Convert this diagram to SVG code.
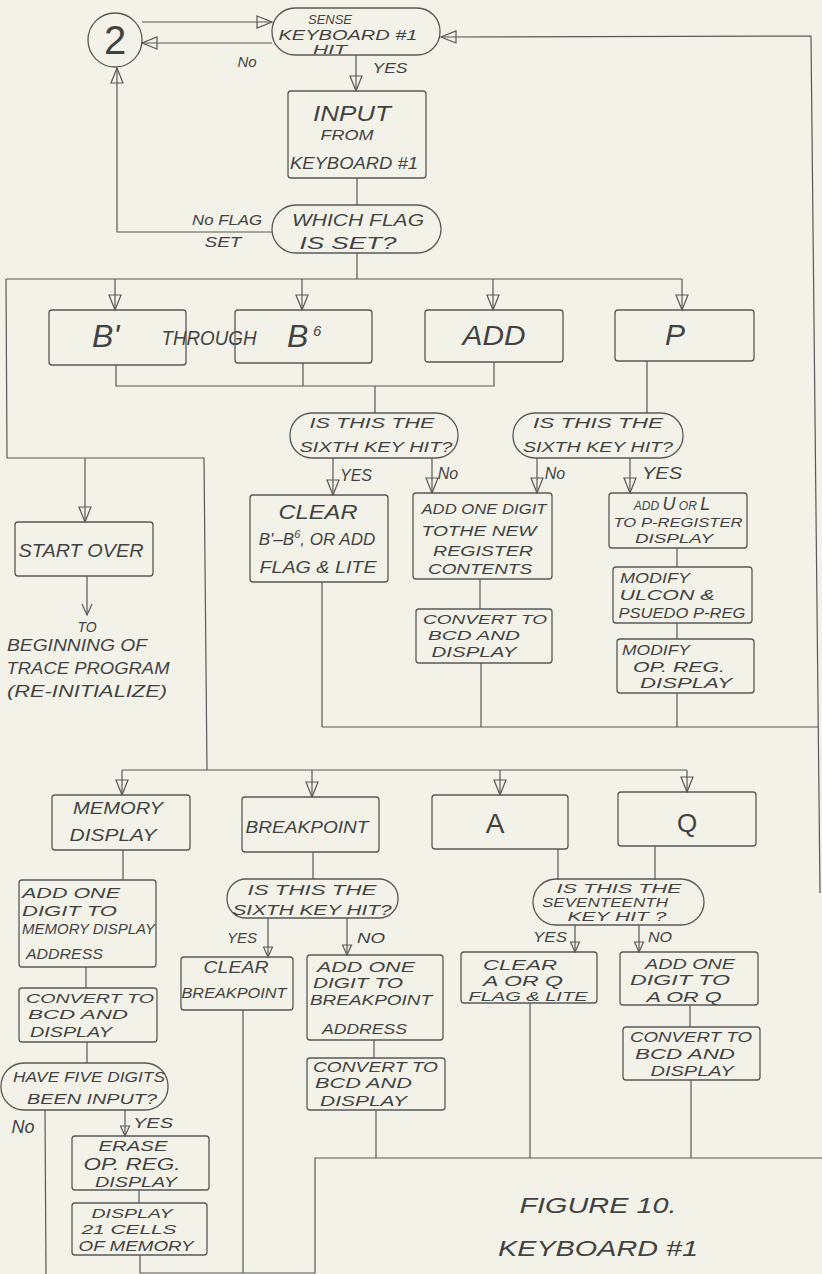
<svg xmlns="http://www.w3.org/2000/svg" width="822" height="1274" viewBox="0 0 822 1274">
<style>
.bx{fill:none;stroke:#585858;stroke-width:1.3}
.ln{fill:none;stroke:#585858;stroke-width:1.2}
.t{font-family:"Liberation Sans",Arial,sans-serif;font-style:italic;fill:#424242;text-anchor:middle}
.s{text-anchor:start}
</style>
<defs>
<marker id="tri" viewBox="-1 -1 17 14" markerWidth="17" markerHeight="14" refX="15" refY="6" orient="auto" markerUnits="userSpaceOnUse">
<path d="M0,0 L15,6 L0,12 Z" fill="none" stroke="#585858" stroke-width="1.2"/>
</marker>
<marker id="tris" viewBox="-1 -1 12 11" markerWidth="12" markerHeight="11" refX="10" refY="4.5" orient="auto" markerUnits="userSpaceOnUse">
<path d="M0,0 L10,4.5 L0,9 Z" fill="none" stroke="#585858" stroke-width="1.2"/>
</marker>
<marker id="vee" viewBox="-1 -1 13 12" markerWidth="13" markerHeight="12" refX="11" refY="5" orient="auto" markerUnits="userSpaceOnUse">
<path d="M0,0 L11,5 L0,10" fill="none" stroke="#585858" stroke-width="1.2"/>
</marker>
</defs>
<rect width="822" height="1274" fill="#f3f2e9"/>

<g id="connectors">
<line class="ln" x1="142" y1="22" x2="272" y2="22" marker-end="url(#tri)"/>
<line class="ln" x1="272" y1="43" x2="142" y2="43" marker-end="url(#tri)"/>
<path class="ln" d="M820,893 L811,36 L441,37" marker-end="url(#tri)"/>
<line class="ln" x1="356" y1="55" x2="356" y2="91" marker-end="url(#tri)"/>
<line class="ln" x1="357" y1="178" x2="357" y2="205"/>
<path class="ln" d="M272,232 L117,232 L117,68" marker-end="url(#tri)"/>
<line class="ln" x1="357" y1="253" x2="357" y2="279"/>
<line class="ln" x1="6" y1="279" x2="682" y2="279"/>
<line class="ln" x1="115" y1="279" x2="115" y2="310" marker-end="url(#tri)"/>
<line class="ln" x1="302" y1="279" x2="302" y2="310" marker-end="url(#tri)"/>
<line class="ln" x1="493" y1="279" x2="493" y2="310" marker-end="url(#tri)"/>
<line class="ln" x1="682" y1="279" x2="682" y2="310" marker-end="url(#tri)"/>
<path class="ln" d="M6,279 L7,458 L204,458 L207,770"/>
<line class="ln" x1="85" y1="458" x2="85" y2="522" marker-end="url(#tri)"/>
<line class="ln" x1="87" y1="576" x2="87" y2="615" marker-end="url(#vee)"/>
<path class="ln" d="M116,365 V386 H494 V362 M303,363 V386 M375,386 V413"/>
<line class="ln" x1="647" y1="361" x2="647" y2="413"/>
<line class="ln" x1="333" y1="458" x2="333" y2="495" marker-end="url(#tri)"/>
<line class="ln" x1="432" y1="458" x2="432" y2="493" marker-end="url(#tri)"/>
<line class="ln" x1="537" y1="458" x2="537" y2="493" marker-end="url(#tri)"/>
<line class="ln" x1="630" y1="458" x2="630" y2="493" marker-end="url(#tri)"/>
<line class="ln" x1="480" y1="579" x2="480" y2="609"/>
<line class="ln" x1="481" y1="663" x2="481" y2="727"/>
<line class="ln" x1="322" y1="582" x2="322" y2="727"/>
<line class="ln" x1="677" y1="548" x2="677" y2="567"/>
<line class="ln" x1="677" y1="623" x2="677" y2="639"/>
<line class="ln" x1="677" y1="693" x2="677" y2="727"/>
<line class="ln" x1="322" y1="727" x2="818" y2="727"/>
<line class="ln" x1="122" y1="770" x2="687" y2="770"/>
<line class="ln" x1="122" y1="770" x2="122" y2="795" marker-end="url(#tri)"/>
<line class="ln" x1="312" y1="770" x2="312" y2="797" marker-end="url(#tri)"/>
<line class="ln" x1="500" y1="770" x2="500" y2="795" marker-end="url(#tri)"/>
<line class="ln" x1="687" y1="770" x2="687" y2="792" marker-end="url(#tri)"/>
<line class="ln" x1="123" y1="850" x2="123" y2="880"/>
<line class="ln" x1="313" y1="852" x2="313" y2="879"/>
<line class="ln" x1="268" y1="918" x2="268" y2="957" marker-end="url(#tris)"/>
<line class="ln" x1="347" y1="918" x2="347" y2="955" marker-end="url(#tris)"/>
<line class="ln" x1="558" y1="849" x2="558" y2="880"/>
<line class="ln" x1="655" y1="846" x2="655" y2="880"/>
<line class="ln" x1="575" y1="925" x2="575" y2="952" marker-end="url(#tris)"/>
<line class="ln" x1="639" y1="925" x2="639" y2="952" marker-end="url(#tris)"/>
<line class="ln" x1="86" y1="967" x2="86" y2="988"/>
<line class="ln" x1="87" y1="1042" x2="87" y2="1063"/>
<line class="ln" x1="45" y1="1110" x2="46" y2="1274"/>
<line class="ln" x1="125" y1="1110" x2="125" y2="1136" marker-end="url(#tris)"/>
<line class="ln" x1="139" y1="1190" x2="139" y2="1203"/>
<path class="ln" d="M140,1255 V1273 H315 V1158 H822"/>
<line class="ln" x1="243" y1="1010" x2="243" y2="1273"/>
<line class="ln" x1="374" y1="1040" x2="374" y2="1058"/>
<line class="ln" x1="376" y1="1110" x2="376" y2="1158"/>
<line class="ln" x1="530" y1="1003" x2="530" y2="1158"/>
<line class="ln" x1="690" y1="1005" x2="690" y2="1027"/>
<line class="ln" x1="691" y1="1080" x2="691" y2="1158"/>
</g>

<g id="labels">
<text class="t" x="247" y="67" font-size="15">No</text>
<text class="t" x="390" y="73" font-size="14" textLength="35" lengthAdjust="spacingAndGlyphs">YES</text>
<text class="t" x="227" y="225" font-size="14" textLength="70" lengthAdjust="spacingAndGlyphs">No FLAG</text>
<text class="t" x="223" y="247" font-size="14" textLength="37" lengthAdjust="spacingAndGlyphs">SET</text>
<text class="t" x="356" y="481" font-size="16" textLength="32" lengthAdjust="spacingAndGlyphs">YES</text>
<text class="t" x="448" y="479" font-size="16">No</text>
<text class="t" x="555" y="479" font-size="16">No</text>
<text class="t" x="662" y="479" font-size="16" textLength="40" lengthAdjust="spacingAndGlyphs">YES</text>
<text class="t" x="242" y="943" font-size="14" textLength="30" lengthAdjust="spacingAndGlyphs">YES</text>
<text class="t" x="371" y="943" font-size="14" textLength="28" lengthAdjust="spacingAndGlyphs">NO</text>
<text class="t" x="550" y="942" font-size="14" textLength="34" lengthAdjust="spacingAndGlyphs">YES</text>
<text class="t" x="660" y="942" font-size="14" textLength="24" lengthAdjust="spacingAndGlyphs">NO</text>
<text class="t" x="23" y="1133" font-size="18">No</text>
<text class="t" x="153" y="1128" font-size="15" textLength="40" lengthAdjust="spacingAndGlyphs">YES</text>
</g>

<g id="n-circle2">
<circle class="bx" cx="115" cy="40" r="27"/>
<text class="t" x="115" y="54" font-size="40" style="font-style:normal">2</text>
</g>

<g id="n-sense">
<rect class="bx" x="272" y="8" width="168" height="47" rx="23"/>
<text class="t" x="330" y="24" font-size="12" textLength="44" lengthAdjust="spacingAndGlyphs">SENSE</text>
<text class="t" x="348" y="40" font-size="14" textLength="139" lengthAdjust="spacingAndGlyphs">KEYBOARD #1</text>
<text class="t" x="330" y="54" font-size="12" textLength="34" lengthAdjust="spacingAndGlyphs">HIT</text>
</g>

<g id="n-input">
<rect class="bx" x="288" y="91" width="138" height="87" rx="3"/>
<text class="t" x="352" y="121" font-size="22" textLength="78" lengthAdjust="spacingAndGlyphs">INPUT</text>
<text class="t" x="347" y="140" font-size="15" textLength="53" lengthAdjust="spacingAndGlyphs">FROM</text>
<text class="t" x="354" y="169" font-size="17" textLength="128" lengthAdjust="spacingAndGlyphs">KEYBOARD #1</text>
</g>

<g id="n-whichflag">
<rect class="bx" x="272" y="205" width="169" height="48" rx="24"/>
<text class="t" x="358" y="226" font-size="17" textLength="132" lengthAdjust="spacingAndGlyphs">WHICH FLAG</text>
<text class="t" x="348" y="249" font-size="17" textLength="97" lengthAdjust="spacingAndGlyphs">IS SET?</text>
</g>

<g id="n-b1">
<rect class="bx" x="49" y="310" width="137" height="55" rx="3"/>
<text class="t s" x="92" y="347" font-size="32">B'</text>
</g>
<g id="n-through">
<text class="t" x="209" y="345" font-size="20" textLength="95" lengthAdjust="spacingAndGlyphs">THROUGH</text>
</g>
<g id="n-b6">
<rect class="bx" x="235" y="310" width="137" height="53" rx="3"/>
<text class="t s" x="287" y="347" font-size="32">B</text>
<text class="t s" x="313" y="336" font-size="15">6</text>
</g>
<g id="n-add">
<rect class="bx" x="425" y="310" width="138" height="52" rx="3"/>
<text class="t" x="494" y="345" font-size="28" textLength="63" lengthAdjust="spacingAndGlyphs">ADD</text>
</g>
<g id="n-p">
<rect class="bx" x="615" y="310" width="139" height="51" rx="3"/>
<text class="t" x="675" y="345" font-size="30">P</text>
</g>

<g id="n-dec1">
<rect class="bx" x="290" y="413" width="168" height="45" rx="22"/>
<text class="t" x="372" y="428" font-size="14" textLength="125" lengthAdjust="spacingAndGlyphs">IS THIS THE</text>
<text class="t" x="376" y="452" font-size="14" textLength="153" lengthAdjust="spacingAndGlyphs">SIXTH KEY HIT?</text>
</g>
<g id="n-dec2">
<rect class="bx" x="513" y="413" width="170" height="45" rx="22"/>
<text class="t" x="598" y="428" font-size="14" textLength="130" lengthAdjust="spacingAndGlyphs">IS THIS THE</text>
<text class="t" x="598" y="452" font-size="14" textLength="150" lengthAdjust="spacingAndGlyphs">SIXTH KEY HIT?</text>
</g>

<g id="n-startover">
<rect class="bx" x="15" y="522" width="138" height="54" rx="3"/>
<text class="t" x="81" y="557" font-size="18" textLength="125" lengthAdjust="spacingAndGlyphs">START OVER</text>
</g>
<g id="n-tobeginning">
<text class="t" x="87" y="632" font-size="14">TO</text>
<text class="t" x="77" y="651" font-size="16" textLength="140" lengthAdjust="spacingAndGlyphs">BEGINNING OF</text>
<text class="t" x="88" y="674" font-size="16" textLength="163" lengthAdjust="spacingAndGlyphs">TRACE PROGRAM</text>
<text class="t" x="87" y="697" font-size="16" textLength="160" lengthAdjust="spacingAndGlyphs">(RE-INITIALIZE)</text>
</g>

<g id="n-clear1">
<rect class="bx" x="250" y="495" width="138" height="87" rx="3"/>
<text class="t" x="318" y="519" font-size="20" textLength="79" lengthAdjust="spacingAndGlyphs">CLEAR</text>
<text class="t" x="317" y="545" font-size="17">B'–B<tspan font-size="11" dy="-7">6</tspan><tspan dy="7">, OR ADD</tspan></text>
<text class="t" x="318" y="573" font-size="16" textLength="117" lengthAdjust="spacingAndGlyphs">FLAG &amp; LITE</text>
</g>

<g id="n-addonedigit">
<rect class="bx" x="413" y="493" width="139" height="86" rx="3"/>
<text class="t" x="484" y="514" font-size="15" textLength="125" lengthAdjust="spacingAndGlyphs">ADD ONE DIGIT</text>
<text class="t" x="479" y="536" font-size="15" textLength="115" lengthAdjust="spacingAndGlyphs">TOTHE NEW</text>
<text class="t" x="483" y="556" font-size="15" textLength="100" lengthAdjust="spacingAndGlyphs">REGISTER</text>
<text class="t" x="480" y="574" font-size="15" textLength="104" lengthAdjust="spacingAndGlyphs">CONTENTS</text>
</g>
<g id="n-convert1">
<rect class="bx" x="416" y="609" width="136" height="54" rx="3"/>
<text class="t" x="485" y="624" font-size="13" textLength="124" lengthAdjust="spacingAndGlyphs">CONVERT TO</text>
<text class="t" x="474" y="640" font-size="13" textLength="92" lengthAdjust="spacingAndGlyphs">BCD AND</text>
<text class="t" x="474" y="657" font-size="14" textLength="85" lengthAdjust="spacingAndGlyphs">DISPLAY</text>
</g>

<g id="n-adduorl">
<rect class="bx" x="609" y="493" width="138" height="55" rx="3"/>
<text class="t" x="672" y="510" font-size="12">ADD <tspan font-size="18">U</tspan> OR <tspan font-size="18">L</tspan></text>
<text class="t" x="678" y="527" font-size="13" textLength="129" lengthAdjust="spacingAndGlyphs">TO P-REGISTER</text>
<text class="t" x="674" y="543" font-size="13" textLength="78" lengthAdjust="spacingAndGlyphs">DISPLAY</text>
</g>
<g id="n-modify1">
<rect class="bx" x="613" y="567" width="139" height="56" rx="3"/>
<text class="t" x="655" y="583" font-size="14" textLength="70" lengthAdjust="spacingAndGlyphs">MODIFY</text>
<text class="t" x="667" y="600" font-size="14" textLength="95" lengthAdjust="spacingAndGlyphs">ULCON &amp;</text>
<text class="t" x="682" y="618" font-size="14" textLength="127" lengthAdjust="spacingAndGlyphs">PSUEDO P-REG</text>
</g>
<g id="n-modify2">
<rect class="bx" x="617" y="639" width="137" height="54" rx="3"/>
<text class="t" x="656" y="655" font-size="14" textLength="68" lengthAdjust="spacingAndGlyphs">MODIFY</text>
<text class="t" x="679" y="672" font-size="15" textLength="92" lengthAdjust="spacingAndGlyphs">OP. REG.</text>
<text class="t" x="686" y="688" font-size="14" textLength="92" lengthAdjust="spacingAndGlyphs">DISPLAY</text>
</g>

<g id="n-memdisp">
<rect class="bx" x="52" y="795" width="138" height="55" rx="3"/>
<text class="t" x="118" y="814" font-size="16" textLength="90" lengthAdjust="spacingAndGlyphs">MEMORY</text>
<text class="t" x="113" y="841" font-size="16" textLength="87" lengthAdjust="spacingAndGlyphs">DISPLAY</text>
</g>
<g id="n-breakpoint">
<rect class="bx" x="242" y="797" width="137" height="55" rx="3"/>
<text class="t" x="307" y="833" font-size="16" textLength="123" lengthAdjust="spacingAndGlyphs">BREAKPOINT</text>
</g>
<g id="n-a">
<rect class="bx" x="432" y="795" width="136" height="54" rx="3"/>
<text class="t" x="495" y="833" font-size="28" style="font-style:normal">A</text>
</g>
<g id="n-q">
<rect class="bx" x="618" y="792" width="138" height="54" rx="3"/>
<text class="t" x="687" y="832" font-size="26" style="font-style:normal">Q</text>
</g>

<g id="n-addmem">
<rect class="bx" x="19" y="880" width="137" height="87" rx="3"/>
<text class="t s" x="22" y="898" font-size="15" textLength="98" lengthAdjust="spacingAndGlyphs">ADD ONE</text>
<text class="t s" x="22" y="916" font-size="15" textLength="95" lengthAdjust="spacingAndGlyphs">DIGIT TO</text>
<text class="t s" x="22" y="934" font-size="14" textLength="133" lengthAdjust="spacingAndGlyphs">MEMORY DISPLAY</text>
<text class="t s" x="26" y="959" font-size="15" textLength="77" lengthAdjust="spacingAndGlyphs">ADDRESS</text>
</g>
<g id="n-convmem">
<rect class="bx" x="19" y="988" width="138" height="54" rx="3"/>
<text class="t s" x="26" y="1003" font-size="13" textLength="128" lengthAdjust="spacingAndGlyphs">CONVERT TO</text>
<text class="t s" x="28" y="1019" font-size="13" textLength="100" lengthAdjust="spacingAndGlyphs">BCD AND</text>
<text class="t s" x="30" y="1037" font-size="14" textLength="82" lengthAdjust="spacingAndGlyphs">DISPLAY</text>
</g>
<g id="n-havefive">
<rect class="bx" x="1" y="1063" width="167" height="47" rx="23"/>
<text class="t" x="89" y="1082" font-size="14" textLength="152" lengthAdjust="spacingAndGlyphs">HAVE FIVE DIGITS</text>
<text class="t" x="92" y="1104" font-size="15" textLength="130" lengthAdjust="spacingAndGlyphs">BEEN INPUT?</text>
</g>
<g id="n-erase">
<rect class="bx" x="72" y="1136" width="137" height="54" rx="3"/>
<text class="t" x="133" y="1151" font-size="14" textLength="69" lengthAdjust="spacingAndGlyphs">ERASE</text>
<text class="t" x="132" y="1170" font-size="16" textLength="97" lengthAdjust="spacingAndGlyphs">OP. REG.</text>
<text class="t" x="136" y="1187" font-size="14" textLength="82" lengthAdjust="spacingAndGlyphs">DISPLAY</text>
</g>
<g id="n-display21">
<rect class="bx" x="72" y="1203" width="135" height="52" rx="3"/>
<text class="t" x="132" y="1218" font-size="13" textLength="81" lengthAdjust="spacingAndGlyphs">DISPLAY</text>
<text class="t" x="129" y="1234" font-size="13" textLength="95" lengthAdjust="spacingAndGlyphs">21 CELLS</text>
<text class="t" x="136" y="1251" font-size="14" textLength="115" lengthAdjust="spacingAndGlyphs">OF MEMORY</text>
</g>

<g id="n-dec3">
<rect class="bx" x="227" y="879" width="171" height="39" rx="19"/>
<text class="t" x="312" y="895" font-size="14" textLength="129" lengthAdjust="spacingAndGlyphs">IS THIS THE</text>
<text class="t" x="312" y="915" font-size="14" textLength="159" lengthAdjust="spacingAndGlyphs">SIXTH KEY HIT?</text>
</g>
<g id="n-clearbp">
<rect class="bx" x="181" y="957" width="112" height="53" rx="3"/>
<text class="t" x="236" y="973" font-size="16" textLength="65" lengthAdjust="spacingAndGlyphs">CLEAR</text>
<text class="t" x="234" y="998" font-size="15" textLength="105" lengthAdjust="spacingAndGlyphs">BREAKPOINT</text>
</g>
<g id="n-addbp">
<rect class="bx" x="307" y="955" width="136" height="85" rx="3"/>
<text class="t s" x="317" y="972" font-size="14" textLength="98" lengthAdjust="spacingAndGlyphs">ADD ONE</text>
<text class="t s" x="313" y="988" font-size="14" textLength="90" lengthAdjust="spacingAndGlyphs">DIGIT TO</text>
<text class="t s" x="310" y="1005" font-size="14" textLength="122" lengthAdjust="spacingAndGlyphs">BREAKPOINT</text>
<text class="t s" x="322" y="1034" font-size="15" textLength="85" lengthAdjust="spacingAndGlyphs">ADDRESS</text>
</g>
<g id="n-convbp">
<rect class="bx" x="307" y="1058" width="138" height="52" rx="3"/>
<text class="t s" x="313" y="1072" font-size="14" textLength="125" lengthAdjust="spacingAndGlyphs">CONVERT TO</text>
<text class="t s" x="315" y="1088" font-size="14" textLength="97" lengthAdjust="spacingAndGlyphs">BCD AND</text>
<text class="t s" x="320" y="1106" font-size="14" textLength="87" lengthAdjust="spacingAndGlyphs">DISPLAY</text>
</g>

<g id="n-dec4">
<rect class="bx" x="533" y="879" width="171" height="46" rx="23"/>
<text class="t" x="619" y="893" font-size="12" textLength="125" lengthAdjust="spacingAndGlyphs">IS THIS THE</text>
<text class="t" x="605" y="907" font-size="12" textLength="126" lengthAdjust="spacingAndGlyphs">SEVENTEENTH</text>
<text class="t" x="617" y="921" font-size="12" textLength="99" lengthAdjust="spacingAndGlyphs">KEY HIT ?</text>
</g>
<g id="n-clearaq">
<rect class="bx" x="461" y="952" width="136" height="51" rx="3"/>
<text class="t" x="520" y="970" font-size="15" textLength="74" lengthAdjust="spacingAndGlyphs">CLEAR</text>
<text class="t" x="523" y="986" font-size="14" textLength="80" lengthAdjust="spacingAndGlyphs">A OR Q</text>
<text class="t" x="528" y="1001" font-size="12" textLength="119" lengthAdjust="spacingAndGlyphs">FLAG &amp; LITE</text>
</g>
<g id="n-addaq">
<rect class="bx" x="620" y="952" width="138" height="53" rx="3"/>
<text class="t" x="690" y="969" font-size="14" textLength="90" lengthAdjust="spacingAndGlyphs">ADD ONE</text>
<text class="t" x="680" y="985" font-size="14" textLength="100" lengthAdjust="spacingAndGlyphs">DIGIT TO</text>
<text class="t" x="684" y="1002" font-size="15" textLength="75" lengthAdjust="spacingAndGlyphs">A OR Q</text>
</g>
<g id="n-convaq">
<rect class="bx" x="623" y="1027" width="137" height="53" rx="3"/>
<text class="t" x="691" y="1042" font-size="14" textLength="122" lengthAdjust="spacingAndGlyphs">CONVERT TO</text>
<text class="t" x="685" y="1059" font-size="14" textLength="100" lengthAdjust="spacingAndGlyphs">BCD AND</text>
<text class="t" x="692" y="1076" font-size="14" textLength="83" lengthAdjust="spacingAndGlyphs">DISPLAY</text>
</g>

<g id="caption">
<text class="t" x="598" y="1213" font-size="22" textLength="157" lengthAdjust="spacingAndGlyphs">FIGURE 10.</text>
<text class="t" x="598" y="1256" font-size="22" textLength="200" lengthAdjust="spacingAndGlyphs">KEYBOARD #1</text>
</g>
</svg>
